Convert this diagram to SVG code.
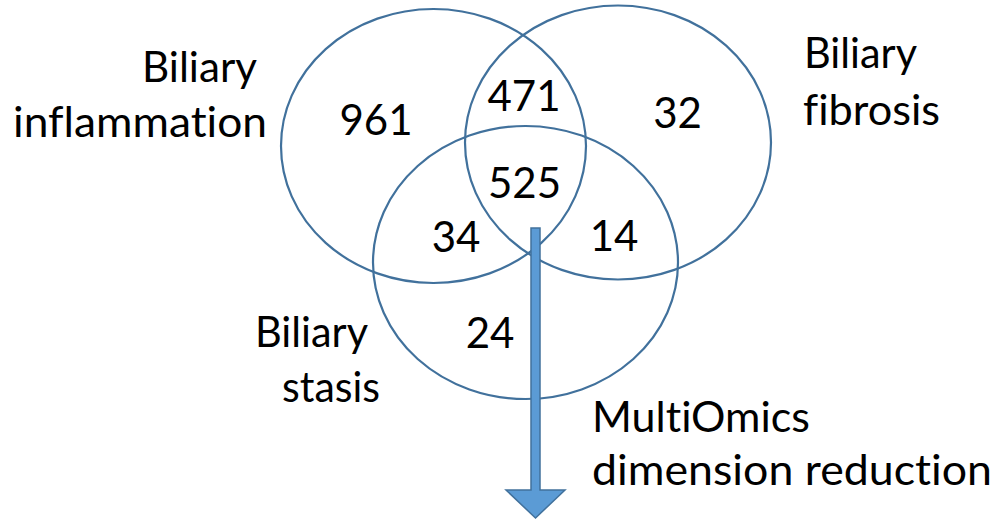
<svg xmlns="http://www.w3.org/2000/svg" width="994" height="525" viewBox="0 0 994 525">
<style>
.set{fill:none;stroke:#41719C;stroke-width:2.2}
.t{font-family:Lato,"Open Sans","Liberation Sans",sans-serif;font-size:42px;fill:#000;font-variant-ligatures:none;font-feature-settings:"liga" 0}
</style>
<rect width="994" height="525" fill="#fff"/>
<g id="set-inflammation"><ellipse class="set" cx="433.5" cy="146" rx="152.5" ry="137"/></g>
<g id="set-fibrosis"><ellipse class="set" cx="618" cy="142.5" rx="153" ry="137"/></g>
<g id="set-stasis"><ellipse class="set" cx="525.5" cy="262.5" rx="152.5" ry="136.5"/></g>
<g id="labels">
<text class="t" x="142" y="82" textLength="115" lengthAdjust="spacingAndGlyphs">Biliary</text>
<text class="t" x="13" y="137" textLength="254" lengthAdjust="spacingAndGlyphs">inflammation</text>
<text class="t" x="804" y="68" textLength="113" lengthAdjust="spacingAndGlyphs">Biliary</text>
<text class="t" x="803" y="125" textLength="137" lengthAdjust="spacingAndGlyphs">fibrosis</text>
<text class="t" x="255" y="347" textLength="113" lengthAdjust="spacingAndGlyphs">Biliary</text>
<text class="t" x="282" y="402" textLength="98" lengthAdjust="spacingAndGlyphs">stasis</text>
<text class="t" x="592" y="432" textLength="218" lengthAdjust="spacingAndGlyphs">MultiOmics</text>
<text class="t" x="592" y="485" textLength="400" lengthAdjust="spacingAndGlyphs">dimension reduction</text>
</g>
<g id="counts" text-anchor="middle">
<text class="t" x="376" y="135">961</text>
<text class="t" x="524" y="111">471</text>
<text class="t" x="677.5" y="128">32</text>
<text class="t" x="524.5" y="198">525</text>
<text class="t" x="456" y="252">34</text>
<text class="t" x="614" y="251">14</text>
<text class="t" x="490" y="348">24</text>
</g>
<g id="connectors">
<path d="M531,228 H540 V490 H565 L535.5,518 L506,490 H531 Z" fill="#5B9BD5" stroke="#41719C" stroke-width="1.5" stroke-linejoin="miter"/>
</g>
</svg>
